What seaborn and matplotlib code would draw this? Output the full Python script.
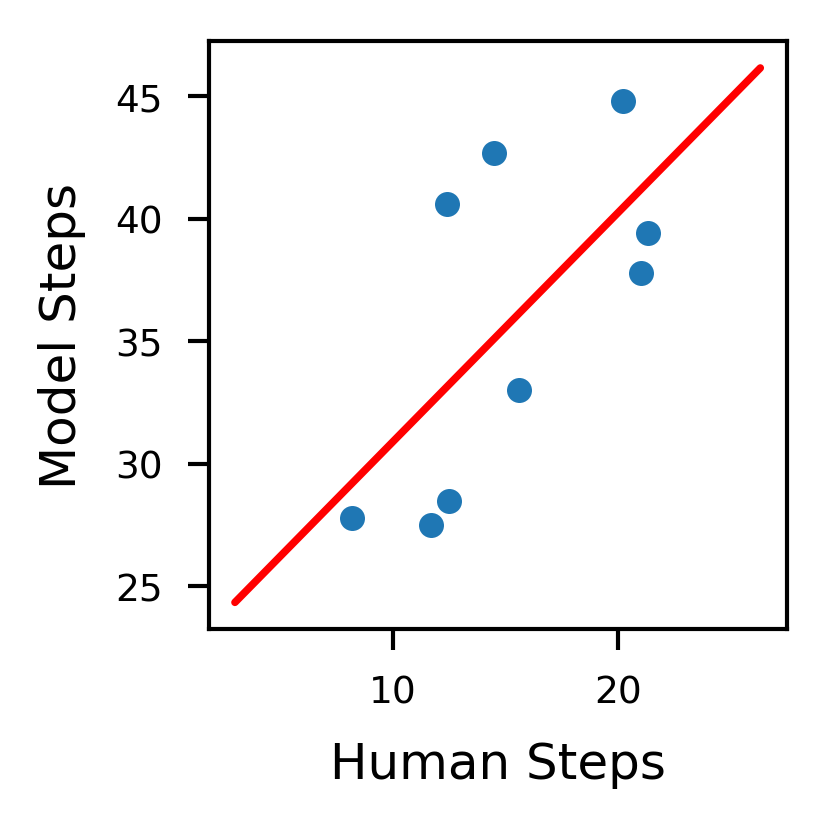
import matplotlib
matplotlib.use('Agg')
import matplotlib.pyplot as plt
import seaborn as sns
import pandas as pd

# Steps taken by humans vs. the model on the same tasks
human_steps = [8.2, 11.7, 12.5, 12.4, 14.5, 15.6, 20.2, 21.3, 21.0]
model_steps = [27.8, 27.5, 28.5, 40.6, 42.7, 33.0, 44.8, 39.4, 37.8]

# Reference line drawn through the cloud
line_x = [3.0, 26.3]
line_y = [24.35, 46.15]

df = pd.DataFrame({'Human Steps': human_steps, 'Model Steps': model_steps})
line_df = pd.DataFrame({'x': line_x, 'y': line_y})

sns.set_style('ticks', {'axes.edgecolor': 'black', 'xtick.color': 'black',
                        'ytick.color': 'black', 'text.color': 'black',
                        'axes.labelcolor': 'black'})
plt.rcParams['font.family'] = ['DejaVu Sans']

fig, ax = plt.subplots(figsize=(2.76, 2.76), dpi=300)
fig.subplots_adjust(left=0.252, right=0.950, bottom=0.239, top=0.949)

sns.scatterplot(data=df, x='Human Steps', y='Model Steps', ax=ax,
                color='#1f77b4', s=36, linewidth=0, zorder=3)
sns.lineplot(data=line_df, x='x', y='y', ax=ax, color='red', linewidth=1.8)

ax.set_xticks([10, 20])
ax.set_yticks([25, 30, 35, 40, 45])
ax.tick_params(labelsize=9, length=5, width=1, pad=6)
for s in ax.spines.values():
    s.set_linewidth(1)
ax.set_xlabel('Human Steps', fontsize=12, labelpad=7)
ax.set_ylabel('Model Steps', fontsize=12, labelpad=7)

fig.savefig('out.png', dpi=300)
